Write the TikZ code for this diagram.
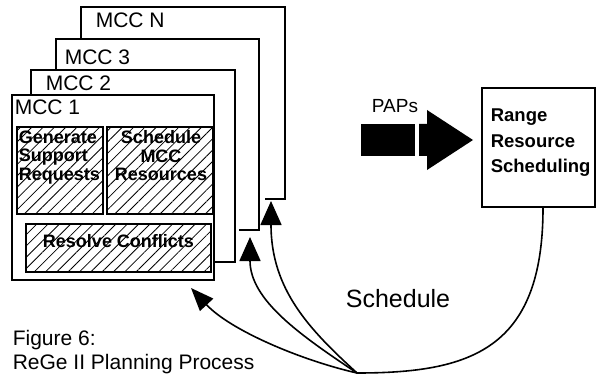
\documentclass[tikz,border=0pt]{standalone}
\usepackage{fontspec}
\setmainfont{Liberation Sans}
\usetikzlibrary{patterns.meta,arrows.meta}
\begin{document}
\begin{tikzpicture}[x=1pt,y=-1pt,line width=1.6pt,
  box/.style={draw,rectangle,inner sep=0pt},
  hatch/.style={box,pattern={Lines[angle=45,distance=8pt,line width=0.8pt]}},
  lbl/.style={anchor=base west,inner sep=0pt,font=\fontsize{21}{21}\selectfont},
  htxt/.style={inner sep=0pt,font=\bfseries\fontsize{18}{18.5}\selectfont},
  rtxt/.style={anchor=base west,inner sep=0pt,font=\bfseries\fontsize{18.5}{25}\selectfont},
  bigtip/.style={-{Triangle[length=24pt,width=21pt]}},
  midtip/.style={-{Triangle[length=23pt,width=18pt]}}]
\clip (0,0) rectangle (596,374);
% stacked MCC frames
\draw (81,39) -- (81,7) -- (285,7) -- (285,199) -- (265,199) coordinate (mccn);
\draw (56,70) -- (56,39) -- (259,39) -- (259,230) -- (239,230) coordinate (mcc3);
\draw (31,95) -- (31,70) -- (235,70) -- (235,262) -- (214,262);
\node[box,fill=white,minimum width=202pt,minimum height=185pt] (mcc1) at (113,187.5) {};
\node[lbl] (ln) at (95,28) {MCC N};
\node[lbl] (l3) at (64,65) {MCC 3};
\node[lbl] (l2) at (45,91) {MCC 2};
\node[lbl] (l1) at (14,115) {MCC 1};
% hatched sub-boxes
\node[hatch,minimum width=86pt,minimum height=87pt] (gen) at (60,170.5) {};
\node[hatch,minimum width=106pt,minimum height=87pt] (sch) at (160,170.5) {};
\node[hatch,minimum width=185pt,minimum height=48pt] (res) at (118.5,248) {};
\node[htxt,anchor=north west,align=left] (gent) at (18,130) {Generate\\Support\\Requests};
\node[htxt,anchor=north,align=center] (scht) at (161,130) {Schedule\\MCC\\Resources};
\node[htxt,anchor=base] (rest) at (118.5,247) {Resolve Conflicts};
% PAPs arrow
\fill (361,124) rectangle (415,156);
\fill (419,124) -- (427,124) -- (427,110) -- (473,140) -- (427,170) -- (427,156) -- (419,156) -- cycle;
\node[anchor=base,inner sep=0pt,font=\fontsize{19}{19}\selectfont] (paps) at (395,113) {PAPs};
% Range resource scheduling
\node[box,minimum width=113pt,minimum height=119pt] (rr) at (538.5,147.5) {};
\node[rtxt] (r1) at (490,122) {Range};
\node[rtxt] (r2) at (490,147) {Resource};
\node[rtxt] (r3) at (490,172) {Scheduling};
% schedule connectors
\coordinate (s) at (357,373);
\draw ([xshift=4.5pt]rr.south) .. controls (543,350) and (470,373) .. (s);
\draw[midtip] (s) .. controls (300,360) and (230,330) .. (191,288);
\draw[bigtip] (s) .. controls (300,335) and (250,300) .. ([yshift=-7pt]mcc3 -| 250,0);
\draw[bigtip] (s) .. controls (310,330) and (271,290) .. ([yshift=-2pt]mccn -| 271,0);
\node[anchor=base,inner sep=0pt,font=\fontsize{25}{25}\selectfont] (schl) at (398,307) {Schedule};
% caption
\node[lbl] (fig) at (12,345) {Figure 6:};
\node[lbl] (cap) at (12,369) {ReGe II Planning Process};
\end{tikzpicture}
\end{document}
